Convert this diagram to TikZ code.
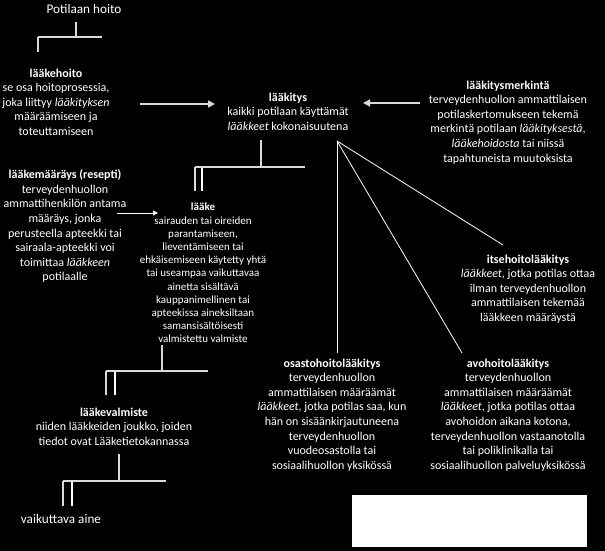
\documentclass[tikz,border=0pt]{standalone}
\usepackage{fontspec}
\setmainfont{Carlito}
\usetikzlibrary{arrows.meta}
\tikzset{
  txt/.style={anchor=north, inner sep=0pt, align=center, text=white, font=\fontsize{12}{14.6}\selectfont},
  smalltxt/.style={txt, font=\fontsize{11}{13.2}\selectfont},
  bigtxt/.style={txt, font=\fontsize{13.2}{15}\selectfont},
  treeline/.style={draw=black!15!white, line width=1.4pt},
  treeline2/.style={draw=white, line width=1.2pt},
  bigarrow/.style={draw=black!15!white, line width=1.6pt, -{Triangle[length=7pt,width=7pt]}},
  smallarrow/.style={draw=white, line width=1pt, -{Triangle[length=5pt,width=5pt]}},
  fanline/.style={draw=white, line width=0.8pt}
}
\begin{document}
\begin{tikzpicture}[x=1pt, y=-1pt]
\fill[black] (0,0) rectangle (605,551);
\useasboundingbox (0,0) rectangle (605,551);

% text nodes
\node[bigtxt] (hoito) at (84,4) {Potilaan hoito};
\node[txt] (laakehoito) at (56,68.5) {\textbf{lääkehoito}\\se osa hoitoprosessia,\\joka liittyy \textit{lääkityksen}\\määräämiseen ja\\toteuttamiseen};
\node[txt] (laakitys) at (288,92.5) {\textbf{lääkitys}\\kaikki potilaan käyttämät\\\textit{lääkkeet} kokonaisuutena};
\node[txt] (merkinta) at (508,80.5) {\textbf{lääkitysmerkintä}\\terveydenhuollon ammattilaisen\\potilaskertomukseen tekemä\\merkintä potilaan \textit{lääkityksestä},\\\textit{lääkehoidosta} tai niissä\\tapahtuneista muutoksista};
\node[txt] (maarays) at (65,169.5) {\textbf{lääkemääräys (resepti)}\\terveydenhuollon\\ammattihenkilön antama\\määräys, jonka\\perusteella apteekki tai\\sairaala-apteekki voi\\toimittaa \textit{lääkkeen}\\potilaalle};
\node[smalltxt] (laake) at (203,203) {\textbf{lääke}\\sairauden tai oireiden\\parantamiseen,\\lieventämiseen tai\\ehkäisemiseen käytetty yhtä\\tai useampaa vaikuttavaa\\ainetta sisältävä\\kauppanimellinen tai\\apteekissa aineksiltaan\\samansisältöisesti\\valmistettu valmiste};
\node[txt] (valmiste) at (114,407.5) {\textbf{lääkevalmiste}\\niiden lääkkeiden joukko, joiden\\tiedot ovat Lääketietokannassa};
\node[bigtxt] (aine) at (61,514) {vaikuttava aine};
\node[txt] (itse) at (528,254.5) {\textbf{itsehoitolääkitys}\\\textit{lääkkeet}, jotka potilas ottaa\\ilman terveydenhuollon\\ammattilaisen tekemää\\lääkkeen määräystä};
\node[txt] (osasto) at (332,358.5) {\textbf{osastohoitolääkitys}\\terveydenhuollon\\ammattilaisen määräämät\\\textit{lääkkeet}, jotka potilas saa, kun\\hän on sisäänkirjautuneena\\terveydenhuollon\\vuodeosastolla tai\\sosiaalihuollon yksikössä};
\node[txt] (avo) at (508,358.5) {\textbf{avohoitolääkitys}\\terveydenhuollon\\ammattilaisen määräämät\\\textit{lääkkeet}, jotka potilas ottaa\\avohoidon aikana kotona,\\terveydenhuollon vastaanotolla\\tai poliklinikalla tai\\sosiaalihuollon palveluyksikössä};

% white box
\fill[white] (352,495) rectangle (587,547);

% connector coordinates
\coordinate (t1a) at (76,22);
\coordinate (t1b) at (76,37);
\coordinate (t1l) at (38,37);
\coordinate (t1r) at (102,37);
\coordinate (t1d) at (38,52);

\coordinate (a1s) at (140,104);
\coordinate (a1e) at (215,104);
\coordinate (a2s) at (420,103);
\coordinate (a2e) at (363,103);
\coordinate (a3s) at (117,213);
\coordinate (a3e) at (158,213);

\coordinate (t2a) at (261,140);
\coordinate (t2b) at (261,167);
\coordinate (t2l) at (195,167);
\coordinate (t2r) at (305,167);
\coordinate (t2d) at (195,191);
\coordinate (t2e) at (202,168);
\coordinate (t2f) at (202,191);

\coordinate (t3a) at (162,345);
\coordinate (t3b) at (162,371);
\coordinate (t3l) at (106,371);
\coordinate (t3r) at (208,371);
\coordinate (t3d) at (106,395);
\coordinate (t3e) at (115,372);
\coordinate (t3f) at (115,395);

\coordinate (t4a) at (119,454);
\coordinate (t4b) at (119,481);
\coordinate (t4l) at (63,481);
\coordinate (t4r) at (166,481);
\coordinate (t4d) at (63,506);
\coordinate (t4e) at (72,482);
\coordinate (t4f) at (72,506);

\coordinate (fan) at (337,141);
\coordinate (fanosasto) at (337,353);
\coordinate (fanavo) at (462,353);
\coordinate (fanitse) at (503,245);

% trees
\draw[treeline] (t1a) -- (t1b);
\draw[treeline] (t1l) -- (t1r);
\draw[treeline] (t1l) -- (t1d);

\draw[treeline] (t2a) -- (t2b);
\draw[treeline] (t2l) -- (t2r);
\draw[treeline] (t2l) -- (t2d);
\draw[treeline2] (t2e) -- (t2f);

\draw[treeline] (t3a) -- (t3b);
\draw[treeline] (t3l) -- (t3r);
\draw[treeline] (t3l) -- (t3d);
\draw[treeline2] (t3e) -- (t3f);

\draw[treeline] (t4a) -- (t4b);
\draw[treeline] (t4l) -- (t4r);
\draw[treeline] (t4l) -- (t4d);
\draw[treeline2] (t4e) -- (t4f);

% arrows
\draw[bigarrow] (a1s) -- (a1e);
\draw[bigarrow] (a2s) -- (a2e);
\draw[smallarrow] (a3s) -- (a3e);

% fan
\draw[fanline] (fan) -- (fanosasto);
\draw[fanline] (fan) -- (fanavo);
\draw[fanline] (fan) -- (fanitse);
\end{tikzpicture}
\end{document}
